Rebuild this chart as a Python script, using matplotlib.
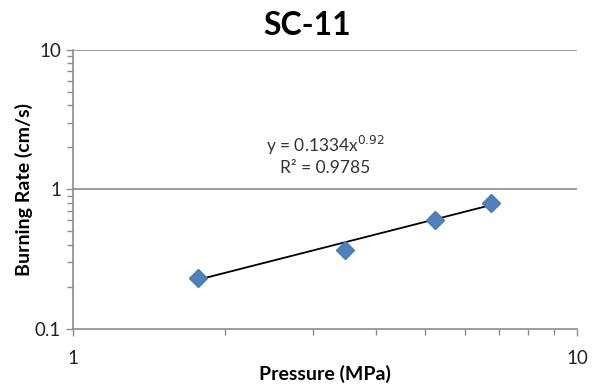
import numpy as np
import matplotlib.pyplot as plt
from matplotlib.ticker import LogLocator, FixedLocator, NullFormatter

plt.rcParams['font.family'] = ['Lato', 'DejaVu Sans']

# data
pressure = [1.77, 3.46, 5.23, 6.76]
burnRate = [0.232, 0.371, 0.608, 0.803]
fitCoef = 0.1334
fitExp = 0.92
xTicks = [1, 10]
yTicks = [0.1, 1, 10]

fig = plt.figure(figsize=(5.93, 3.89), dpi=100)
ax = fig.add_axes([0.123, 0.154, 0.850, 0.718])
ax.set_xscale('log')
ax.set_yscale('log')
ax.set_xlim(1, 10)
ax.set_ylim(0.1, 10)

# gridlines at major y ticks
for yv in yTicks[1:]:
  ax.axhline(yv, color='#8c8c8c', lw=1.2, zorder=0)

# power-law trendline across data range
xFit = np.linspace(min(pressure), max(pressure), 50)
ax.plot(xFit, fitCoef * xFit ** fitExp, color='black', lw=1.3, zorder=2)
ax.plot(pressure, burnRate, 'D', color='#4f81bd', markersize=9,
        markeredgecolor='#4a7ab5', zorder=3)

ax.text(0.5, 0.657, r'y = 0.1334x$^{0.92}$', transform=ax.transAxes,
        ha='center', va='center', fontsize=12.5, color='#333333')
ax.text(0.5, 0.575, 'R² = 0.9785', transform=ax.transAxes,
        ha='center', va='center', fontsize=12.5, color='#333333')

for s in ['top', 'right']:
  ax.spines[s].set_visible(False)
for s in ['left', 'bottom']:
  ax.spines[s].set_color('#8c8c8c')
  ax.spines[s].set_linewidth(1.2)

ax.xaxis.set_major_locator(FixedLocator(xTicks))
ax.yaxis.set_major_locator(FixedLocator(yTicks))
ax.set_xticklabels(['1', '10'])
ax.set_yticklabels(['0.1', '1', '10'])
ax.xaxis.set_minor_locator(LogLocator(base=10, subs=np.arange(2, 10)))
ax.yaxis.set_minor_locator(LogLocator(base=10, subs=np.arange(2, 10)))
ax.xaxis.set_minor_formatter(NullFormatter())
ax.yaxis.set_minor_formatter(NullFormatter())
ax.tick_params(which='both', direction='out', color='#8c8c8c', width=1)
ax.tick_params(which='major', length=5, labelsize=13.5, labelcolor='#222222')
ax.tick_params(which='minor', length=4)
ax.tick_params(axis='x', which='major', pad=10)

fig.text(0.518, 0.935, 'SC-11', fontsize=23, fontweight='bold',
         ha='center', va='center')
ax.set_xlabel('Pressure (MPa)', fontsize=14, fontweight='bold')
ax.set_ylabel('Burning Rate (cm/s)', fontsize=14, fontweight='bold')
ax.xaxis.set_label_coords(0.5, -0.128)
ax.yaxis.set_label_coords(-0.08, 0.5)

fig.savefig('out.png', dpi=100)
